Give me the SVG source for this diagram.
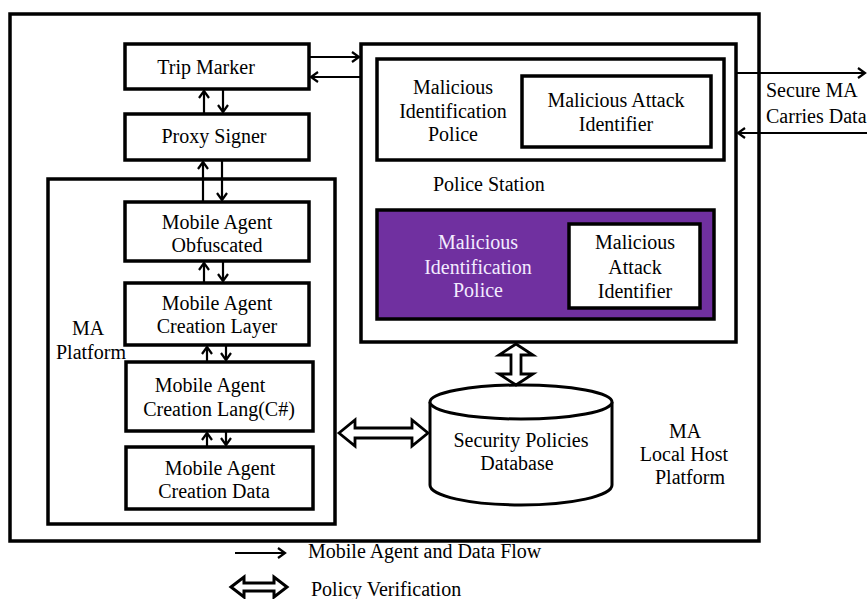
<svg xmlns="http://www.w3.org/2000/svg" width="867" height="599" viewBox="0 0 867 599" font-family="'Liberation Serif', 'DejaVu Serif', 'Times New Roman', serif" font-size="20">
<defs>
<marker id="ah" markerWidth="12" markerHeight="12" refX="9" refY="6" orient="auto" markerUnits="userSpaceOnUse">
<path d="M2,1 L9,6 L2,11" fill="none" stroke="#000" stroke-width="2.2"/>
</marker>
</defs>
<style>
text{font-family:'Liberation Serif','DejaVu Serif','Times New Roman',serif;font-size:20px;fill:#000}
.c{text-anchor:middle}
.box{fill:#fff;stroke:#000;stroke-width:3.5}
.frame{fill:none;stroke:#000;stroke-width:3.5}
.ln{stroke:#000;stroke-width:2.2;fill:none}
.dbl{fill:#fff;stroke:#000;stroke-width:2.8;stroke-linejoin:miter}
.lt{fill:#f3ecff}
</style>
<rect width="867" height="599" fill="#fff"/>
<g id="outer"><rect class="frame" x="10" y="14" width="749" height="527"/></g>
<g id="police-station">
<rect class="box" x="361" y="44" width="375" height="298"/>
<text x="433" y="191">Police Station</text>
</g>
<g id="mip-top">
<rect class="box" x="377" y="59" width="347" height="101"/>
<text class="c" x="453" y="94">Malicious</text>
<text class="c" x="453" y="118">Identification</text>
<text class="c" x="453" y="141">Police</text>
</g>
<g id="mai-top">
<rect class="box" x="522" y="76" width="189" height="71"/>
<text class="c" x="616" y="107">Malicious  Attack</text>
<text class="c" x="616" y="131">Identifier</text>
</g>
<g id="mip-purple">
<rect x="377" y="210" width="337" height="109" fill="#7030a0" stroke="#000" stroke-width="3.5"/>
<text class="c lt" x="478" y="249">Malicious</text>
<text class="c lt" x="478" y="274">Identification</text>
<text class="c lt" x="478" y="297">Police</text>
</g>
<g id="mai-purple">
<rect class="box" x="569" y="224" width="131" height="84"/>
<text class="c" x="635" y="249">Malicious</text>
<text class="c" x="635" y="274">Attack</text>
<text class="c" x="635" y="298">Identifier</text>
</g>
<g id="trip-marker">
<rect class="box" x="125" y="44" width="184" height="45"/>
<text class="c" x="206" y="74">Trip  Marker</text>
</g>
<g id="proxy-signer">
<rect class="box" x="125" y="114" width="184" height="46"/>
<text class="c" x="214" y="143">Proxy Signer</text>
</g>
<g id="ma-platform">
<rect class="frame" x="48" y="179" width="287" height="345"/>
<text class="c" x="88" y="335">MA</text>
<text x="56" y="359">Platform</text>
</g>
<g id="ma-obfuscated">
<rect class="box" x="125" y="202" width="184" height="59"/>
<text class="c" x="217" y="229">Mobile Agent</text>
<text class="c" x="217" y="252">Obfuscated</text>
</g>
<g id="ma-creation-layer">
<rect class="box" x="125" y="283" width="184" height="62"/>
<text class="c" x="217" y="310">Mobile Agent</text>
<text class="c" x="217" y="333">Creation Layer</text>
</g>
<g id="ma-creation-lang">
<rect class="box" x="126" y="362" width="187" height="69"/>
<text class="c" x="210" y="392">Mobile Agent</text>
<text class="c" x="219" y="416">Creation Lang(C#)</text>
</g>
<g id="ma-creation-data">
<rect class="box" x="126" y="447" width="187" height="62"/>
<text class="c" x="220" y="475">Mobile Agent</text>
<text class="c" x="214" y="498">Creation Data</text>
</g>
<g id="security-db">
<path d="M430,402 L430,485 A91,20 0 0 0 612,485 L612,402" fill="#fff" stroke="#000" stroke-width="3"/>
<ellipse cx="521" cy="402" rx="91" ry="17" fill="#fff" stroke="#000" stroke-width="3"/>
<text class="c" x="521" y="447">Security Policies</text>
<text class="c" x="517" y="470">Database</text>
</g>
<g id="local-host-label">
<text class="c" x="685" y="438">MA</text>
<text class="c" x="684" y="461">Local Host</text>
<text class="c" x="690" y="484">Platform</text>
</g>
<g id="external-label">
<text x="766" y="97">Secure MA</text>
<text x="766" y="123">Carries Data</text>
</g>
<g id="connectors">
<line class="ln" x1="309" y1="57" x2="359" y2="57" marker-end="url(#ah)"/>
<line class="ln" x1="361" y1="77" x2="311" y2="77" marker-end="url(#ah)"/>
<line class="ln" x1="736" y1="73" x2="865" y2="73" marker-end="url(#ah)"/>
<line class="ln" x1="867" y1="133" x2="738" y2="133" marker-end="url(#ah)"/>
<line class="ln" x1="204" y1="114" x2="204" y2="91" marker-end="url(#ah)"/>
<line class="ln" x1="223" y1="89" x2="223" y2="112" marker-end="url(#ah)"/>
<line class="ln" x1="203" y1="202" x2="203" y2="162" marker-end="url(#ah)"/>
<line class="ln" x1="222" y1="160" x2="222" y2="200" marker-end="url(#ah)"/>
<line class="ln" x1="204" y1="283" x2="204" y2="263" marker-end="url(#ah)"/>
<line class="ln" x1="223" y1="261" x2="223" y2="281" marker-end="url(#ah)"/>
<line class="ln" x1="207" y1="362" x2="207" y2="347" marker-end="url(#ah)"/>
<line class="ln" x1="226" y1="345" x2="226" y2="360" marker-end="url(#ah)"/>
<line class="ln" x1="207" y1="447" x2="207" y2="433" marker-end="url(#ah)"/>
<line class="ln" x1="226" y1="431" x2="226" y2="445" marker-end="url(#ah)"/>
<polygon class="dbl" points="339,433 355,420 355,428 412,428 412,420 428,433 412,446 412,438 355,438 355,446"/>
<polygon class="dbl" points="516,344 533,355 521,355 521,374 533,374 516,385 499,374 511,374 511,355 499,355"/>
</g>
<g id="legend">
<line class="ln" x1="235" y1="553" x2="285" y2="553" marker-end="url(#ah)"/>
<text x="308" y="558">Mobile Agent and Data Flow</text>
<polygon points="231,587 244,577 244,583 274,583 274,577 287,587 274,597 274,591 244,591 244,597" fill="#fff" stroke="#000" stroke-width="3"/>
<text x="311" y="596">Policy Verification</text>
</g>
</svg>
